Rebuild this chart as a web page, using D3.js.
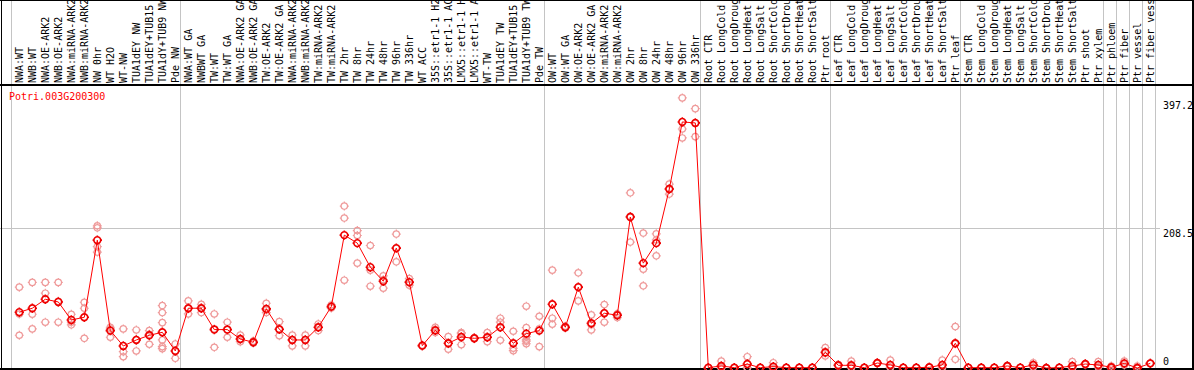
<!DOCTYPE html>
<html>
  <head>
    <meta charset="utf-8">
    <title>Potri.003G200300</title>
    <script src="https://d3js.org/d3.v7.min.js"></script>
    <style>
      body { margin: 0; background: #fff; }
      text { font-family: "DejaVu Sans Mono", monospace; font-size: 10px; }
    </style>
  </head>
  <body>
    <svg width="1194" height="370"></svg>
    <script>
      // sample names along the top
      var categories = [
        "NWA:WT", "NWB:WT", "NWA:OE-ARK2", "NWB:OE-ARK2", "NWA:miRNA-ARK2", "NWB:miRNA-ARK2",
        "NW 0hr", "WT H2O", "WT-NW", "TUA1dEY NW", "TUA1dEY+TUB15", "TUA1dY+TUB9 NW", "Pde NW",
        "NWA:WT GA", "NWBWT GA", "TW:WT", "TW:WT GA", "NWA:OE-ARK2 GA", "NWB:OE-ARK2 GA",
        "TW:OE-ARK2", "TW:OE-ARK2 GA", "NWA:miRNA-ARK2", "NWB:miRNA-ARK2", "TW:miRNA-ARK2", "TW:miRNA-ARK2",
        "TW 2hr", "TW 8hr", "TW 24hr", "TW 48hr", "TW 96hr", "TW 336hr", "WT ACC",
        "35S::etr1-1 H2O", "35S::etr1-1 ACC", "LMX5::etr1-1 H2O", "LMX5::etr1-1 ACC",
        "WT-TW", "TUA1dEY TW", "TUA1dEY+TUB15", "TUA1dY+TUB9 TW", "Pde TW",
        "OW:WT", "OW:WT GA", "OW:OE-ARK2", "OW:OE-ARK2 GA", "OW:miRNA-ARK2", "OW:miRNA-ARK2",
        "OW 2hr", "OW 8hr", "OW 24hr", "OW 48hr", "OW 96hr", "OW 336hr",
        "Root CTR", "Root LongCold", "Root LongDrought", "Root LongHeat", "Root LongSalt",
        "Root ShortCold", "Root ShortDrought", "Root ShortHeat", "Root ShortSalt", "Ptr root",
        "Leaf CTR", "Leaf LongCold", "Leaf LongDrought", "Leaf LongHeat", "Leaf LongSalt",
        "Leaf ShortCold", "Leaf ShortDrought", "Leaf ShortHeat", "Leaf ShortSalt", "Ptr leaf",
        "Stem CTR", "Stem LongCold", "Stem LongDrought", "Stem LongHeat", "Stem LongSalt",
        "Stem ShortCold", "Stem ShortDrought", "Stem ShortHeat", "Stem ShortSalt",
        "Ptr shoot", "Ptr xylem", "Ptr phloem", "Ptr fiber", "Ptr vessel", "Ptr fiber vessel"
      ];

      // mean expression per sample
      var means = [
        82.8, 88.7, 102, 98, 71.3, 75.3, 189.7, 55.5, 32.7, 41.6, 48.5, 53, 25.3,
        88.7, 88.7, 57, 57, 43, 38.2, 87.7, 57.5, 41.6, 41.6, 60.5, 91.1,
        197.2, 185.3, 149.6, 128.8, 177.9, 127.4, 33.2, 56, 36.7, 46, 44.1,
        45.6, 60.5, 36.7, 51, 55.5,
        94.6, 60.5, 120, 66.4, 81.3, 78.3, 224, 155.6, 185.3, 265.6, 365.1, 363.7,
        0.5, 3, 0.5, 5.9, 0.5, 2, 0.5, 0.5, 0.5, 23.3,
        4, 4, 0.5, 7.4, 4.5, 0.5, 0.5, 1, 4.5, 36.7,
        0.5, 0.5, 0.5, 3, 0.5, 4.5, 0, 0.5, 3,
        5.9, 4.5, 1, 6.9, 0, 6.9
      ];

      // individual replicates per sample
      var replicates = [
        [120, 80, 48.6], [127, 79.8, 58], [127, 111, 68], [127, 99, 68], [79.8, 68, 64], [97.6, 88.7, 44],
        [211, 208, 180, 172], [60.5, 45.6, 58], [58, 24.3, 16.8], [56.5, 25.3, 42], [55.5, 35.2, 50],
        [92.6, 82.2, 67.3, 41.6, 31.7, 28.7], [35.7, 25.3, 14.4],
        [99.6, 80.2, 88], [94.6, 82.2, 89], [80.2, 30.7, 58], [68, 45.6, 57], [49, 39, 43], [38, 40, 37],
        [96.1, 82.2, 86], [68.8, 48, 57], [49, 32.7, 42], [49, 32.7, 42], [65.4, 55.5, 60], [93.6, 90, 89],
        [240.3, 222.5, 130.3], [204, 196.6, 155.6], [181.8, 145.2, 121.4], [136.7, 118.4, 131],
        [198.7, 157.5, 177.5], [132.7, 122.9, 126.6], [34, 32.5, 33],
        [60.5, 55, 52.5], [46.5, 27.8, 36], [52.5, 34.6, 51], [44, 45, 43.5],
        [52.5, 39, 45.5], [73.9, 68, 41.2], [54.5, 29.3, 25.7], [91.7, 59.9, 46.5, 41.6, 39.7, 36],
        [76.8, 31.7, 58],
        [145.2, 73.9, 64.9], [62, 59.5, 60], [141.2, 99.6, 120], [78.8, 56.5, 64], [94.1, 68, 82],
        [74.8, 80, 80], [260, 186.8, 225], [200.2, 146.7, 121.9], [199.1, 166.4, 190],
        [273, 258.1, 265.7], [400.8, 354.7, 341.4], [384.9, 343.3, 363],
        [0.3, 0.6, 0.5], [10.4, 0.5, 0.3], [0.5, 0.6, 0.4], [16.8, 0.5, 0.4], [0.5, 0.4, 0.6],
        [7.9, 0, 0], [0.5, 0.5, 0.5], [0.5, 0.5, 0.5], [0.5, 0.5, 0.5], [30.2, 17.8, 22],
        [4, 5, 3], [10.4, 1, 0.6], [0.5, 0.5, 0.5], [7.9, 7, 7], [11.9, 1, 0.6],
        [0.5, 0.5, 0.5], [0.5, 0.5, 0.5], [1, 1, 1], [11.9, 1, 0.6], [61.4, 36, 12.9],
        [0.5, 0.5, 0.5], [0.5, 0.5, 0.5], [0.5, 0.5, 0.5], [3, 3.5, 2.5], [0.5, 0.5, 0.5],
        [7.9, 4, 1.5], [0, 0, 0], [0.5, 0.5, 0.5], [9.4, 0, 0],
        [5.9, 5, 6], [9.4, 3, 1], [3, 0.5, 0], [10.4, 6, 4.5], [3, 0, 0], [6.9, 7, 6.5]
      ];

      var yTicks = [397.2, 208.5, 0];
      var yGrid = [208.5];
      var yMax = 417;
      // last sample index of each block (a separator is drawn after it)
      var groupEnds = [-1, 12, 40, 52, 62, 72, 83, 84, 85, 86, 87];
      var geneId = "Potri.003G200300";

      var width = 1194, height = 370;
      var headerY = 85, bottomY = 368;

      var svg = d3.select("svg");

      var x = d3.scalePoint()
          .domain(d3.range(categories.length))
          .range([19.3, 19.3 + 13 * (categories.length - 1)]);
      var step = x.step();

      var y = d3.scaleLinear()
          .domain([0, yMax])
          .range([bottomY, 87]);

      // grid lines
      var sepX = function(i) { return Math.round(x(0) + i * step + 4.7) + 0.5; };
      svg.append("g")
          .selectAll("line")
          .data(groupEnds)
          .enter().append("line")
          .attr("x1", sepX).attr("x2", sepX)
          .attr("y1", 0).attr("y2", bottomY)
          .attr("stroke", "#c4c4c4");

      svg.append("g")
          .selectAll("line")
          .data(yGrid)
          .enter().append("line")
          .attr("x1", 0).attr("x2", 1160)
          .attr("y1", function(d) { return Math.round(y(d)) + 0.5; })
          .attr("y2", function(d) { return Math.round(y(d)) + 0.5; })
          .attr("stroke", "#c4c4c4");

      // sample labels, rotated
      svg.append("g")
          .selectAll("text")
          .data(categories)
          .enter().append("text")
          .attr("transform", function(d, i) { return "translate(" + x(i) + "," + (headerY - 2) + ") rotate(-90)"; })
          .attr("dy", "0.35em")
          .attr("fill", "#000")
          .text(function(d) { return d; });

      // frame
      svg.append("line").attr("x1", 0).attr("x2", width).attr("y1", 0.5).attr("y2", 0.5).attr("stroke", "#000");
      svg.append("line").attr("x1", 1.5).attr("x2", 1.5).attr("y1", 0).attr("y2", bottomY + 2).attr("stroke", "#000");
      svg.append("line").attr("x1", 1193).attr("x2", 1193).attr("y1", 0).attr("y2", bottomY + 2).attr("stroke", "#000").attr("stroke-width", 2);
      svg.append("line").attr("x1", 0).attr("x2", width).attr("y1", headerY).attr("y2", headerY).attr("stroke", "#000").attr("stroke-width", 2);
      svg.append("line").attr("x1", 0).attr("x2", width).attr("y1", bottomY + 1).attr("y2", bottomY + 1).attr("stroke", "#000").attr("stroke-width", 2);

      // y labels on the right
      svg.append("g")
          .selectAll("text")
          .data(yTicks)
          .enter().append("text")
          .attr("x", 1163)
          .attr("y", function(d) { return d === 0 ? y(d) - 3 : y(d) + 9; })
          .attr("fill", "#000")
          .text(function(d) { return d; });

      svg.append("text")
          .attr("x", 9)
          .attr("y", 100)
          .attr("fill", "#ff0000")
          .text(geneId);

      // marker: small ring with four ticks
      function marker(r) {
        var t = r + 1.3;
        return "M" + r + ",0A" + r + "," + r + " 0 1,1 " + (-r) + ",0A" + r + "," + r + " 0 1,1 " + r + ",0" +
          "M0," + (-r) + "V" + (-t) + "M0," + r + "V" + t + "M" + (-r) + ",0H" + (-t) + "M" + r + ",0H" + t;
      }

      var repPoints = [];
      replicates.forEach(function(reps, i) {
        reps.forEach(function(v) { repPoints.push([i, v]); });
      });

      svg.append("g")
          .selectAll("path")
          .data(repPoints)
          .enter().append("path")
          .attr("transform", function(d) { return "translate(" + x(d[0]) + "," + y(d[1]) + ")"; })
          .attr("d", marker(3.2))
          .attr("fill", "none")
          .attr("stroke", "#ef9a9a")
          .attr("stroke-width", 1.2);

      var line = d3.line()
          .x(function(d, i) { return x(i); })
          .y(function(d) { return y(d); });

      svg.append("path")
          .datum(means)
          .attr("d", line)
          .attr("fill", "none")
          .attr("stroke", "#ff0000")
          .attr("stroke-width", 1);

      svg.append("g")
          .selectAll("path")
          .data(means)
          .enter().append("path")
          .attr("transform", function(d, i) { return "translate(" + x(i) + "," + y(d) + ")"; })
          .attr("d", marker(3.4))
          .attr("fill", "none")
          .attr("stroke", "#ee0000")
          .attr("stroke-width", 1.6);
    </script>
  </body>
</html>
